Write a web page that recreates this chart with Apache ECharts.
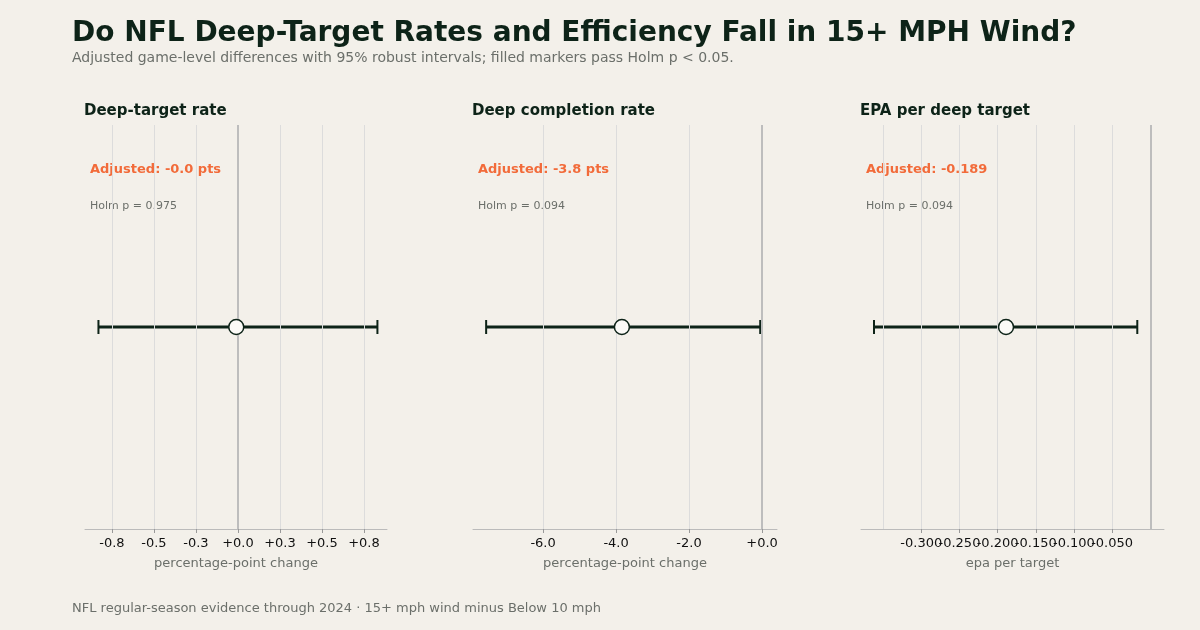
<!DOCTYPE html>
<html><head><meta charset="utf-8">
<script src="https://cdn.jsdelivr.net/npm/echarts@6/dist/echarts.min.js"></script>
<style>html,body{margin:0;background:#f3f0ea}#c{width:1200px;height:630px}</style>
</head><body><div id="c"></div>
<script>
const panels = ["Deep-target rate","Deep completion rate","EPA per deep target"];
const estimates = [-0.01, -3.84, -0.189];
const lowers = [-0.83, -7.56, -0.362];
const uppers = [0.83, -0.05, -0.017];
const adjustedLabels = ["Adjusted: -0.0 pts","Adjusted: -3.8 pts","Adjusted: -0.189"];
const holmLabels = ["Holm p = 0.975","Holm p = 0.094","Holm p = 0.094"];
const axisNames = ["percentage-point change","percentage-point change","epa per target"];
const tickValues = [
  [-0.75,-0.5,-0.25,0,0.25,0.5,0.75],
  [-6,-4,-2,0],
  [-0.35,-0.3,-0.25,-0.2,-0.15,-0.1,-0.05,0]
];
const axisMin = [-0.91,-7.92,-0.379];
const axisMax = [0.887,0.41,0.018];
const decimals = [1,1,3];

const grids=[{left:85,width:302},{left:473,width:304},{left:861,width:303}];
const dark="#0d2318", gray="#6b6f6a";
const opt={backgroundColor:"#f3f0ea",animation:false,grid:[],xAxis:[],yAxis:[],series:[],graphic:[]};
opt.graphic.push(
 {type:'text',left:72,top:20,style:{text:"Do NFL Deep-Target Rates and Efficiency Fall in 15+ MPH Wind?",font:"bold 28px 'DejaVu Sans'",fill:dark}},
 {type:'text',left:72,top:51,style:{text:"Adjusted game-level differences with 95% robust intervals; filled markers pass Holm p < 0.05.",font:"14px 'DejaVu Sans'",fill:gray}},
 {type:'text',left:72,top:602,style:{text:"NFL regular-season evidence through 2024 · 15+ mph wind minus Below 10 mph",font:"13px 'DejaVu Sans'",fill:gray}}
);
grids.forEach((g,i)=>{
  opt.grid.push({left:g.left,width:g.width,top:125,height:404});
  const fmt=v=>(v>=0?"+":"")+v.toFixed(decimals[i]);
  opt.xAxis.push({gridIndex:i,type:'value',min:axisMin[i],max:axisMax[i],
    name:axisNames[i],nameLocation:'middle',nameGap:28,nameTextStyle:{color:gray,fontSize:13,fontFamily:'DejaVu Sans'},
    axisLine:{show:true,lineStyle:{color:'#bbb'}},splitLine:{show:false},
    axisTick:{show:true,customValues:tickValues[i],length:4,lineStyle:{color:'#999'}},
    axisLabel:{customValues:tickValues[i],formatter:fmt,color:'#111',fontSize:13,fontFamily:'DejaVu Sans',margin:8}});
  opt.yAxis.push({gridIndex:i,type:'value',min:0,max:1,show:false});
  opt.series.push({type:'line',xAxisIndex:i,yAxisIndex:i,data:[],silent:true,
    markLine:{symbol:'none',label:{show:false},silent:true,
      data:tickValues[i].map(v=>({xAxis:v,lineStyle:{color:v===0?'#bdbdbd':'#dcdcdc',width:v===0?2:1,type:'solid'}}))}});
  opt.series.push({type:'custom',xAxisIndex:i,yAxisIndex:i,data:[[lowers[i],uppers[i],0.5]],
    renderItem:(p,api)=>{const a=api.coord([api.value(0),api.value(2)]),b=api.coord([api.value(1),api.value(2)]);
      const s={stroke:dark,lineWidth:3};
      return {type:'group',children:[
        {type:'line',shape:{x1:a[0],y1:a[1],x2:b[0],y2:b[1]},style:s},
        {type:'line',shape:{x1:a[0],y1:a[1]-7,x2:a[0],y2:a[1]+7},style:{stroke:dark,lineWidth:2}},
        {type:'line',shape:{x1:b[0],y1:b[1]-7,x2:b[0],y2:b[1]+7},style:{stroke:dark,lineWidth:2}}]};}});
  opt.series.push({type:'scatter',xAxisIndex:i,yAxisIndex:i,data:[[estimates[i],0.5]],symbolSize:15,z:10,
    itemStyle:{color:'#fbfaf7',borderColor:dark,borderWidth:1.5,opacity:1}});
  opt.graphic.push(
    {type:'text',left:g.left-1,top:104,style:{text:panels[i],font:"bold 15px 'DejaVu Sans'",fill:dark}},
    {type:'text',left:g.left+5,top:163,style:{text:adjustedLabels[i],font:"bold 13px 'DejaVu Sans'",fill:'#f26b3a'}},
    {type:'text',left:g.left+5,top:201,style:{text:holmLabels[i],font:"11px 'DejaVu Sans'",fill:gray}});
});
echarts.init(document.getElementById('c')).setOption(opt);
</script></body></html>
